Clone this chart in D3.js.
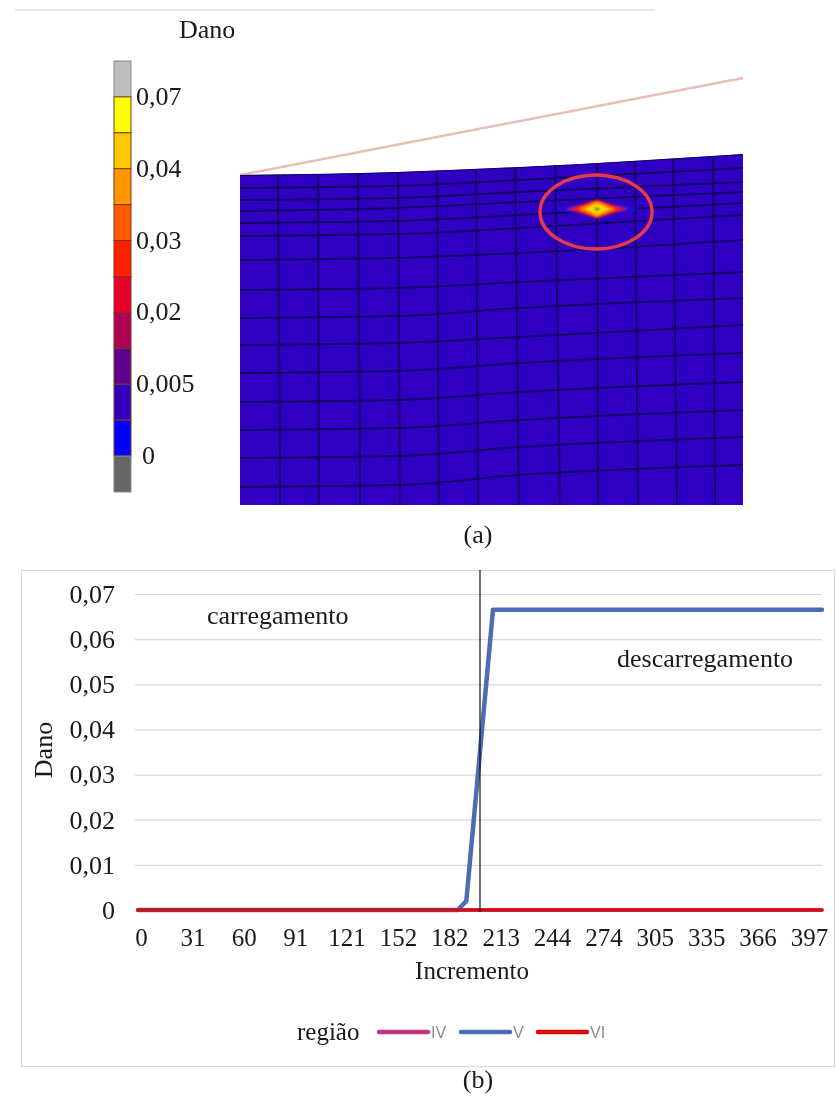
<!DOCTYPE html>
<html>
<head>
<meta charset="utf-8">
<script src="https://cdn.jsdelivr.net/npm/d3@7"></script>
<style>
  body { margin: 0; background: #fff; }
  svg { display: block; filter: blur(0.45px); }
  text { font-family: "Liberation Serif", serif; font-size: 26px; fill: #1a1a1a; }
</style>
</head>
<body>
<div class="chart"></div>
<script>
// colour bar of panel (a)
var barColors = ["#bdbdbd", "#ffff00", "#ffc800", "#ff9600", "#ff5a00", "#ff2000",
  "#e6002a", "#b00055", "#60008f", "#3000bb", "#0000ff", "#666666"];
var barLabels = ["0,07", "0,04", "0,03", "0,02", "0,005", "0"];

// deformed mesh of panel (a), height of each row at four stations along the part
var meshStations = [0, 157, 280, 503];
var rowsLeft = [330, 317, 305, 294, 282, 269, 245, 215, 187, 160, 132, 103, 75, 47, 18];
var rowsSecond = [333, 319, 307, 297, 284, 271, 247, 217, 189, 162, 134, 105, 77, 49, 20];
var rowsMiddle = [338, 325, 313, 303, 290, 277, 252, 223, 197, 168, 142, 113, 85, 58, 30];
var rowsRight = [351, 337, 323, 313, 302, 290, 265, 233, 207, 180, 152, 123, 95, 68, 40];
var columnsTop = [38, 78, 118, 158, 197, 236, 275, 315, 357, 395, 433, 473];
var columnsBottom = [40, 79, 120, 160, 199, 238, 279, 320, 358, 398, 437, 475];
var blankLine = [[0, 330], [503, 427]];

// damage hot spot, half sizes in mesh units
var spotCenter = [357, 296];
var spotHalfWidth = [42, 30, 24, 18, 12, 4];
var spotHalfHeight = [7, 9.5, 9, 7.5, 5.5, 2.5];
var spotColors = ["#2418e4", "#d8103a", "#ff2000", "#ff9600", "#ffe000", "#7da028"];

// curve of panel (b)
var increments = [0, 187, 192, 207.6, 400];
var seriesIV = [0, 0, 0, 0, 0];
var seriesV = [0, 0, 0.002, 0.0665, 0.0665];
var seriesVI = [0, 0, 0, 0, 0];
var seriesNames = ["IV", "V", "VI"];
var seriesColors = ["#c0357f", "#4a6db3", "#cc1018"];
var legendColors = ["#c0357f", "#4a6db3", "#e00a0a"];
var unloadStart = [200];

var yTicks = [0, 0.01, 0.02, 0.03, 0.04, 0.05, 0.06, 0.07];
var xTickLabels = ["0", "31", "60", "91", "121", "152", "182", "213", "244", "274", "305", "335", "366", "397"];

var width = 836, height = 1097;

var svg = d3.select(".chart")
  .append("svg")
  .attr("width", width)
  .attr("height", height);

// soft blur for the FE contour
var defs = svg.append("defs");
defs.append("filter").attr("id", "soft")
  .append("feGaussianBlur").attr("stdDeviation", 1.3);
defs.append("filter").attr("id", "softer")
  .append("feGaussianBlur").attr("stdDeviation", 0.7);

// faint rule at the top of the page
svg.append("line")
  .attr("x1", 15).attr("x2", 655)
  .attr("y1", 10).attr("y2", 10)
  .attr("stroke", "#e2e2e2").attr("stroke-width", 1.5);

// ---------- panel (a) ----------
svg.append("text").attr("x", 179).attr("y", 38).text("Dano");

var barY = d3.scaleBand().domain(d3.range(barColors.length)).range([61, 492]);

svg.append("g").selectAll("rect")
  .data(barColors)
  .enter()
  .append("rect")
  .attr("x", 114)
  .attr("width", 17)
  .attr("y", function (d, i) { return barY(i); })
  .attr("height", barY.bandwidth())
  .attr("fill", function (d) { return d; })
  .attr("stroke", function (d, i) { return i == 0 || i == barColors.length - 1 ? "#888" : "#7a3a20"; })
  .attr("stroke-width", 1);

// one label at every second boundary of the bar
svg.append("g").selectAll("text")
  .data(barLabels)
  .enter()
  .append("text")
  .attr("x", function (d) { return d == "0" ? 142 : 136; })
  .attr("y", function (d, i) { return barY(i * 2 + 1) + 8; })
  .text(function (d) { return d; });

var meshX = d3.scaleLinear().domain([0, 503]).range([240, 743]);
var meshY = d3.scaleLinear().domain([0, 351]).range([505, 154]);

var rowLine = d3.line()
  .x(function (d) { return meshX(d[0]); })
  .y(function (d) { return meshY(d[1]); })
  .curve(d3.curveMonotoneX);

function rowPoints(i) {
  return [[meshStations[0], rowsLeft[i]], [meshStations[1], rowsSecond[i]],
    [meshStations[2], rowsMiddle[i]], [meshStations[3], rowsRight[i]]];
}

// outline of the part: the top row closed along the base
var outline = rowLine(rowPoints(0)) + "L" + meshX(503) + "," + meshY(0) + "L" + meshX(0) + "," + meshY(0) + "Z";

svg.append("line")
  .attr("x1", meshX(blankLine[0][0])).attr("y1", meshY(blankLine[0][1]))
  .attr("x2", meshX(blankLine[1][0])).attr("y2", meshY(blankLine[1][1]))
  .attr("stroke", "#e8bdb4").attr("stroke-width", 2.5);

svg.append("clipPath").attr("id", "meshClip")
  .append("path").attr("d", outline);

var mesh = svg.append("g").attr("clip-path", "url(#meshClip)");

mesh.append("path").attr("d", outline).attr("fill", "#2f00c2");

var meshLines = mesh.append("g")
  .attr("filter", "url(#softer)")
  .attr("fill", "none")
  .attr("stroke", "#14006a")
  .attr("stroke-width", 2);

meshLines.selectAll(".row")
  .data(rowsLeft)
  .enter()
  .append("path")
  .attr("class", "row")
  .attr("d", function (d, i) { return rowLine(rowPoints(i)); });

meshLines.selectAll(".col")
  .data(columnsTop)
  .enter()
  .append("line")
  .attr("class", "col")
  .attr("x1", function (d) { return meshX(d); })
  .attr("y1", meshY(351))
  .attr("x2", function (d, i) { return meshX(columnsBottom[i]); })
  .attr("y2", meshY(0));

// hot spot, nested diamonds from the outside in
var diamond = d3.line()
  .x(function (d) { return meshX(d[0]); })
  .y(function (d) { return meshY(d[1]); })
  .curve(d3.curveLinearClosed);

mesh.append("g").attr("filter", "url(#soft)")
  .selectAll("path")
  .data(spotColors)
  .enter()
  .append("path")
  .attr("fill", function (d) { return d; })
  .attr("d", function (d, i) {
    var w = spotHalfWidth[i], h = spotHalfHeight[i];
    return diamond([[spotCenter[0] - w, spotCenter[1]], [spotCenter[0], spotCenter[1] + h],
      [spotCenter[0] + w, spotCenter[1]], [spotCenter[0], spotCenter[1] - h]]);
  });

// red mark round the spot
svg.append("ellipse")
  .attr("cx", meshX(356)).attr("cy", meshY(293))
  .attr("rx", 56).attr("ry", 37)
  .attr("fill", "none")
  .attr("stroke", "#e83a46")
  .attr("stroke-width", 3.5);

svg.append("text").attr("x", 478).attr("y", 543).attr("text-anchor", "middle").text("(a)");

// ---------- panel (b) ----------
svg.append("rect")
  .attr("x", 21.5).attr("y", 570.5)
  .attr("width", 813).attr("height", 496)
  .attr("fill", "none")
  .attr("stroke", "#d9d9d9")
  .attr("stroke-width", 1.2);

var x = d3.scaleLinear().domain([0, 400]).range([138, 822]);
var xLabels = d3.scalePoint().domain(xTickLabels).range([141, 809]);
var y = d3.scaleLinear().domain([0, 0.07]).range([910, 594]);

// y axis with decimal comma and the gridlines
var yAxis = svg.append("g")
  .attr("transform", "translate(135,0)")
  .call(d3.axisLeft(y)
    .tickValues(yTicks)
    .tickSize(-687)
    .tickPadding(20)
    .tickFormat(function (d) { return d == 0 ? "0" : d3.format(".2f")(d).replace(".", ","); }));
yAxis.select(".domain").remove();
yAxis.selectAll("line").attr("stroke", "#d9d9d9").attr("stroke-width", 1.2);
yAxis.selectAll("text").attr("fill", "#1a1a1a")
  .style("font-family", '"Liberation Serif", serif')
  .style("font-size", "26px");

var xAxis = svg.append("g")
  .attr("transform", "translate(0,910)")
  .call(d3.axisBottom(xLabels).tickSize(0).tickPadding(18));
xAxis.select(".domain").remove();
xAxis.selectAll("text").attr("fill", "#1a1a1a")
  .style("font-family", '"Liberation Serif", serif')
  .style("font-size", "25px");

svg.append("text")
  .attr("transform", "translate(52,750) rotate(-90)")
  .attr("text-anchor", "middle")
  .text("Dano");
svg.append("text").attr("x", 472).attr("y", 979).attr("text-anchor", "middle")
  .style("font-size", "25px").text("Incremento");

svg.append("text").attr("x", 207).attr("y", 624).text("carregamento");
svg.append("text").attr("x", 617).attr("y", 667).text("descarregamento");

// series, red last so it sits on top
var curve = d3.line()
  .x(function (d, i) { return x(increments[i]); })
  .y(function (d) { return y(d); });

var seriesWidths = [3.5, 4.5, 3.5];
svg.append("g").selectAll("path")
  .data([seriesIV, seriesV, seriesVI])
  .enter()
  .append("path")
  .attr("d", curve)
  .attr("fill", "none")
  .attr("stroke", function (d, i) { return seriesColors[i]; })
  .attr("stroke-width", function (d, i) { return seriesWidths[i]; })
  .attr("stroke-linecap", "round")
  .attr("stroke-linejoin", "round");

// vertical mark between loading and unloading
svg.append("line")
  .attr("x1", x(unloadStart[0])).attr("x2", x(unloadStart[0]))
  .attr("y1", 570).attr("y2", 912)
  .attr("stroke", "#111")
  .attr("stroke-width", 1.2);

// legend
svg.append("text").attr("x", 297).attr("y", 1040).style("font-size", "25px").text("região");

var legendStart = d3.scaleOrdinal().domain(seriesNames).range([379, 461, 538]);

var legend = svg.append("g").selectAll("g")
  .data(seriesNames)
  .enter()
  .append("g")
  .attr("transform", function (d) { return "translate(" + legendStart(d) + ",1032)"; });

legend.append("line")
  .attr("x1", 0).attr("x2", 49)
  .attr("stroke", function (d, i) { return legendColors[i]; })
  .attr("stroke-width", 4.5)
  .attr("stroke-linecap", "round");

legend.append("text")
  .attr("x", 52).attr("y", 6)
  .style("font-family", '"Liberation Sans", sans-serif')
  .style("font-size", "16px")
  .style("fill", "#8a8a8a")
  .text(function (d) { return d; });

svg.append("text").attr("x", 478).attr("y", 1088).attr("text-anchor", "middle").text("(b)");
</script>
</body>
</html>
